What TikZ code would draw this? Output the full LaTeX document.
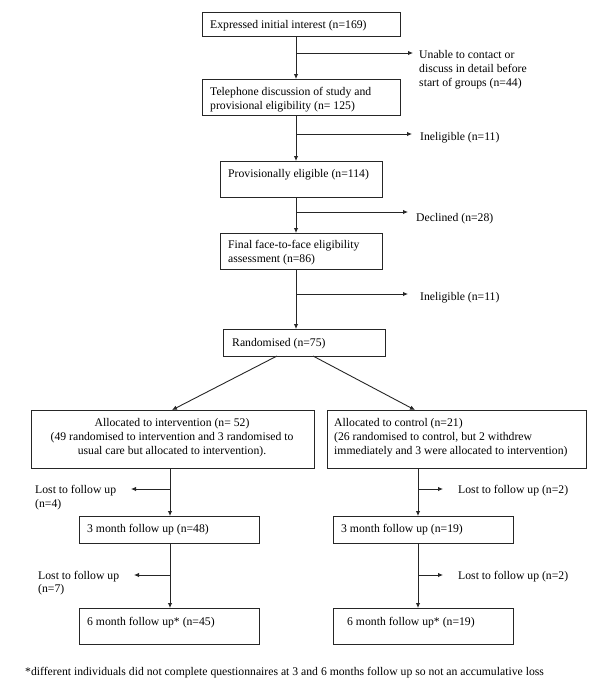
\documentclass[tikz,border=0pt]{standalone}
\usepackage{fontspec}
\setmainfont{Liberation Serif}
\usetikzlibrary{arrows.meta}
\begin{document}
\begin{tikzpicture}[x=1pt,y=-1pt,
  box/.style={draw=black!85, line width=0.9pt, anchor=north west, inner sep=0pt, outer sep=0pt},
  txt/.style={anchor=base west, inner sep=0pt, font=\fontsize{11.7}{14}\selectfont},
  ctxt/.style={anchor=base, inner sep=0pt, font=\fontsize{11.7}{14}\selectfont},
  arr/.style={draw=black!85, line width=0.9pt, -{Latex[length=5pt,width=4.5pt]}}]
\useasboundingbox (0,0) rectangle (600,697);
% boxes
\node[box, minimum width=198pt, minimum height=24pt] (b1) at (202,12) {};
\node[box, minimum width=198pt, minimum height=36pt] (b2) at (202,79) {};
\node[box, minimum width=162pt, minimum height=36pt] (b3) at (220,161) {};
\node[box, minimum width=162pt, minimum height=36pt] (b4) at (220,233) {};
\node[box, minimum width=162pt, minimum height=27pt] (b5) at (223,329) {};
\node[box, minimum width=283pt, minimum height=58pt] (b6) at (31,410) {};
\node[box, minimum width=259pt, minimum height=58pt] (b7) at (327,410) {};
\node[box, minimum width=180pt, minimum height=27pt] (b8) at (79,516) {};
\node[box, minimum width=180pt, minimum height=36pt] (b9) at (79,608) {};
\node[box, minimum width=180pt, minimum height=27pt] (b10) at (333,516) {};
\node[box, minimum width=180pt, minimum height=36pt] (b11) at (333,608) {};
% texts
\node[txt] (t1) at (210,28) {Expressed initial interest (n=169)};
\node[txt] (t2a) at (210,95) {Telephone discussion of study and};
\node[txt] (t2b) at (210,109) {provisional eligibility (n= 125)};
\node[txt] (t3) at (228,177) {Provisionally eligible (n=114)};
\node[txt] (t4a) at (228,248) {Final face-to-face eligibility};
\node[txt] (t4b) at (228,262) {assessment (n=86)};
\node[txt] (t5) at (232,346) {Randomised (n=75)};
\node[ctxt] (t6a) at (172,426) {Allocated to intervention (n= 52)};
\node[ctxt] (t6b) at (172,440) {(49 randomised to intervention and 3 randomised to};
\node[ctxt] (t6c) at (172,454) {usual care but allocated to intervention).};
\node[txt] (t7a) at (334,426) {Allocated to control (n=21)};
\node[txt] (t7b) at (334,440) {(26 randomised to control, but 2 withdrew};
\node[txt] (t7c) at (334,454) {immediately and 3 were allocated to intervention)};
\node[txt] (t8) at (87,532) {3 month follow up (n=48)};
\node[txt] (t9) at (87,625) {6 month follow up* (n=45)};
\node[txt] (t10) at (341,532) {3 month follow up (n=19)};
\node[txt] (t11) at (347,625) {6 month follow up* (n=19)};
% side labels
\node[txt] (l1a) at (419,58) {Unable to contact or};
\node[txt] (l1b) at (419,72) {discuss in detail before};
\node[txt] (l1c) at (419,86) {start of groups (n=44)};
\node[txt] (l2) at (420,140) {Ineligible (n=11)};
\node[txt] (l3) at (416,221) {Declined (n=28)};
\node[txt] (l4) at (420,300) {Ineligible (n=11)};
\node[txt] (l5a) at (35,493) {Lost to follow up};
\node[txt] (l5b) at (35,507) {(n=4)};
\node[txt] (l6a) at (38,579) {Lost to follow up};
\node[txt] (l6b) at (38,592) {(n=7)};
\node[txt] (l7) at (458,493) {Lost to follow up (n=2)};
\node[txt] (l8) at (458,579) {Lost to follow up (n=2)};
\node[txt] (foot) at (25,675) {*different individuals did not complete questionnaires at 3 and 6 months follow up so not an accumulative loss};
% trunk coordinates
\coordinate (tx) at (296,0);
\coordinate (lx) at (170,0);
\coordinate (rx) at (418,0);
\coordinate (d1) at (277,0);
\coordinate (d2) at (313,0);
\coordinate (c6) at (172,0);
\coordinate (c7) at (415,0);
% main trunk
\draw[arr] (b1.south -| tx) -- (b2.north -| tx);
\draw[arr] (b2.south -| tx) -- (b3.north -| tx);
\draw[arr] (b3.south -| tx) -- (b4.north -| tx);
\draw[arr] (b4.south -| tx) -- (b5.north -| tx);
% exclusions
\coordinate (j1) at (296,53);  \coordinate (e1) at (413,53);
\coordinate (j2) at (296,134); \coordinate (e2) at (412,134);
\coordinate (j3) at (296,212); \coordinate (e3) at (408,212);
\coordinate (j4) at (296,294); \coordinate (e4) at (408,294);
\draw[arr] (j1) -- (e1);
\draw[arr] (j2) -- (e2);
\draw[arr] (j3) -- (e3);
\draw[arr] (j4) -- (e4);
% randomisation
\draw[arr] (b5.south -| d1) -- (b6.north -| c6);
\draw[arr] (b5.south -| d2) -- (b7.north -| c7);
% left arm
\draw[arr] (b6.south -| lx) -- (b8.north -| lx);
\draw[arr] (b8.south -| lx) -- (b9.north -| lx);
\coordinate (j5) at (170,489); \coordinate (e5) at (131,489);
\coordinate (j6) at (170,575); \coordinate (e6) at (134,575);
\draw[arr] (j5) -- (e5);
\draw[arr] (j6) -- (e6);
% right arm
\draw[arr] (b7.south -| rx) -- (b10.north -| rx);
\draw[arr] (b10.south -| rx) -- (b11.north -| rx);
\coordinate (j7) at (418,489); \coordinate (e7) at (443,489);
\coordinate (j8) at (418,575); \coordinate (e8) at (443,575);
\draw[arr] (j7) -- (e7);
\draw[arr] (j8) -- (e8);
\end{tikzpicture}
\end{document}
